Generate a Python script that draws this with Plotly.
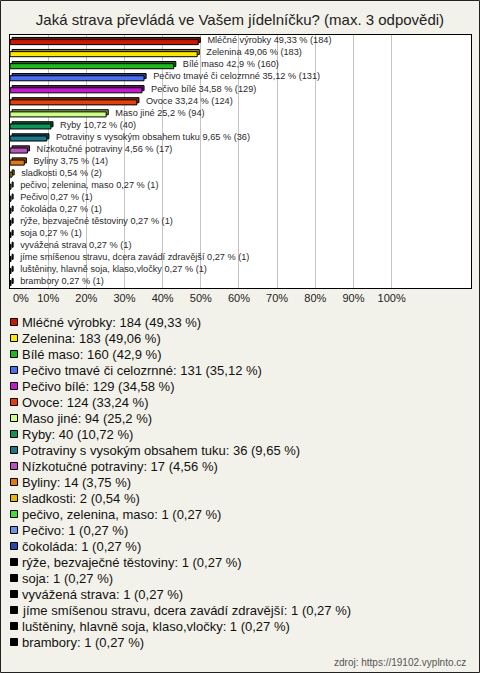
import plotly.graph_objects as go

# ---------------- data ----------------
names = [
    "Mléčné výrobky", "Zelenina", "Bílé maso", "Pečivo tmavé či celozrnné",
    "Pečivo bílé", "Ovoce", "Maso jiné", "Ryby",
    "Potraviny s vysokým obsahem tuku", "Nízkotučné potraviny", "Byliny",
    "sladkosti", "pečivo, zelenina, maso", "Pečivo", "čokoláda",
    "rýže, bezvaječné těstoviny", "soja", "vyvážená strava",
    "jíme smíšenou stravu, dcera zavádí zdravější",
    "luštěniny, hlavně soja, klaso,vločky", "brambory",
]
counts = [184, 183, 160, 131, 129, 124, 94, 40, 36, 17, 14, 2, 1, 1, 1, 1, 1, 1, 1, 1, 1]
percents = [49.33, 49.06, 42.9, 35.12, 34.58, 33.24, 25.2, 10.72, 9.65, 4.56, 3.75,
            0.54, 0.27, 0.27, 0.27, 0.27, 0.27, 0.27, 0.27, 0.27, 0.27]
pct_text = ["49,33", "49,06", "42,9", "35,12", "34,58", "33,24", "25,2", "10,72", "9,65",
            "4,56", "3,75", "0,54", "0,27", "0,27", "0,27", "0,27", "0,27", "0,27",
            "0,27", "0,27", "0,27"]
colors = ["#c81a04", "#fbe800", "#1fb81f", "#4a70f2", "#c01ccc", "#e2400e", "#ccff88",
          "#0f9455", "#1c7888", "#bb55bb", "#e27810", "#e6b800", "#44dd33", "#6e92e4",
          "#2448b0", "#000000", "#000000", "#000000", "#000000", "#000000", "#000000"]
tick_vals = [0, 10, 20, 30, 40, 50, 60, 70, 80, 90, 100]
tick_text = ["0%", "10%", "20%", "30%", "40%", "50%", "60%", "70%", "80%", "90%", "100%"]
title = "Jaká strava převládá ve Vašem jídelníčku? (max. 3 odpovědi)"
source = "zdroj: https://19102.vyplnto.cz"

# ---------------- layout constants ----------------
W, H = 480, 673
L, R, T, B = 10, 9, 35, 385
PW, PH = W - L - R, H - T - B
DEPTH = 0.55  # 3D depth along x (in %)
FONT = "Liberation Sans, Arial, sans-serif"


def darken(hexc, f=0.6):
    h = hexc.lstrip("#")
    r, g, b = (int(h[i:i + 2], 16) for i in (0, 2, 4))
    return "#%02x%02x%02x" % (int(r * f), int(g * f), int(b * f))


def pxx(x):
    return (x - L) / PW


def pxy(y):
    return (H - B - y) / PH


bar_labels = [f"{n} {p} % ({c})" for n, p, c in zip(names, pct_text, counts)]
legend_labels = [f"{n}: {c} ({p} %)" for n, p, c in zip(names, pct_text, counts)]

fig = go.Figure()

# back (depth) face of 3D bars
fig.add_trace(go.Bar(
    y=names, x=percents, base=DEPTH, orientation="h",
    offset=-0.30, width=0.42,
    marker=dict(color=[darken(c) for c in colors], line=dict(color="#000000", width=1)),
    hoverinfo="skip", showlegend=False,
))
# front face
fig.add_trace(go.Bar(
    y=names, x=percents, base=0, orientation="h",
    offset=-0.12, width=0.42,
    marker=dict(color=colors, line=dict(color="#000000", width=1)),
    hoverinfo="skip", showlegend=False,
))
# value labels
fig.add_trace(go.Scatter(
    y=names, x=percents, mode="markers+text",
    marker=dict(size=13, opacity=0),
    text=bar_labels, textposition="middle right",
    textfont=dict(family=FONT, size=9.2, color="#2a2a2a"),
    hoverinfo="skip", showlegend=False, cliponaxis=False,
))

shapes = []
annotations = []
# first tick label (left-aligned at the axis start, as in the original)
annotations.append(dict(xref="x", yref="paper", x=tick_vals[0], y=pxy(298),
                        xanchor="left", yanchor="middle", xshift=1, showarrow=False,
                        text=tick_text[0], font=dict(family=FONT, size=11, color="#222222")))
# custom legend
for i, (lab, col) in enumerate(zip(legend_labels, colors)):
    cy = 322 + 16 * i
    shapes.append(dict(type="rect", xref="paper", yref="paper",
                       x0=pxx(10.5), x1=pxx(17.5), y0=pxy(cy + 3.5), y1=pxy(cy - 3.5),
                       fillcolor=col, line=dict(color="#000000", width=1)))
    annotations.append(dict(xref="paper", yref="paper", x=pxx(20), y=pxy(cy + 0.5),
                            xanchor="left", yanchor="middle", showarrow=False,
                            text=lab, font=dict(family=FONT, size=13, color="#111111")))
# source
annotations.append(dict(xref="paper", yref="paper", x=pxx(468), y=pxy(662),
                        xanchor="right", yanchor="middle", showarrow=False,
                        text=source, font=dict(family=FONT, size=10, color="#555555")))
# outer frame
shapes.append(dict(type="rect", xref="paper", yref="paper",
                   x0=pxx(0.5), x1=pxx(W - 0.5), y0=pxy(H - 0.5), y1=pxy(0.5),
                   line=dict(color="#222222", width=1), layer="below"))

fig.update_layout(
    width=W, height=H,
    margin=dict(l=L, r=R, t=T, b=B, pad=0),
    paper_bgcolor="#f3f2ea", plot_bgcolor="#ffffff",
    barmode="overlay",
    title=dict(text=title, x=0.5, xanchor="center", xref="container",
               y=1 - 20 / H, yanchor="middle", yref="container",
               font=dict(family=FONT, size=15, color="#222222")),
    xaxis=dict(range=[0, 120.8], tickvals=tick_vals, ticktext=[""] + tick_text[1:],
               showgrid=True, gridcolor="#c4c4c4", gridwidth=1, zeroline=False,
               showline=True, linecolor="#000000", linewidth=1, mirror=True,
               ticks="", tickfont=dict(family=FONT, size=11, color="#222222"),
               fixedrange=True),
    yaxis=dict(type="category", categoryorder="array", categoryarray=names,
               range=[len(names) - 0.5, -0.5], showticklabels=False, showgrid=False,
               zeroline=False, showline=True, linecolor="#000000", linewidth=1,
               mirror=True, ticks="", fixedrange=True),
    shapes=shapes, annotations=annotations,
    showlegend=False,
)

fig.write_html("out.html", config={"displayModeBar": False},
               post_script="document.body.style.margin='0';document.body.style.overflow='hidden';")
